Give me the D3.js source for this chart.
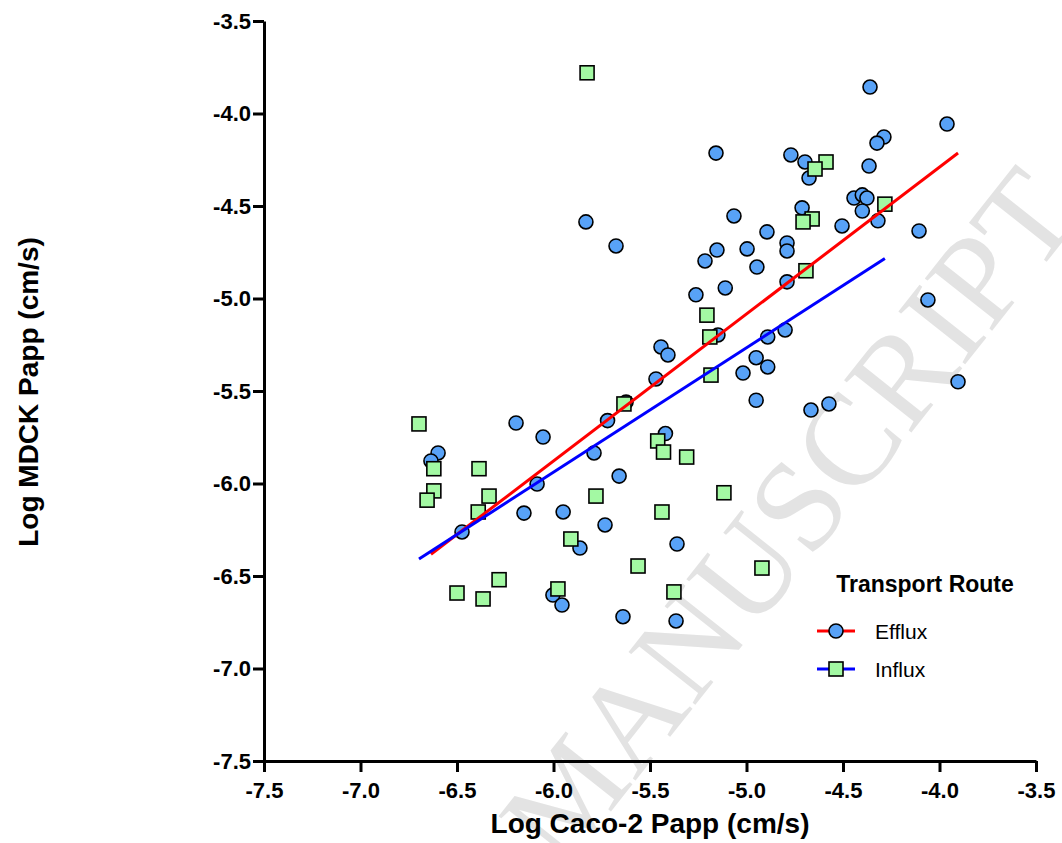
<!DOCTYPE html>
<html>
<head>
<meta charset="utf-8">
<script src="https://cdn.jsdelivr.net/npm/d3@7"></script>
<style>
  body { margin: 0; background: #fff; }
  text { font-family: "Liberation Sans", Arial, sans-serif; }
</style>
</head>
<body>
<div id="chart"></div>
<script>
// Efflux (circles)
const effluxX = [-6.194, -6.054, -6.598, -6.635, -5.79, -5.72, -5.66, -5.42, -6.085, -6.153,
  -5.95, -5.733, -6.474, -5.863, -5.36, -6.003, -5.956, -5.64, -5.365, -5.624,
  -5.443, -5.407, -5.469, -5.158, -4.77, -4.697, -4.676, -5.832, -5.065, -4.712,
  -4.505, -5.676, -4.894, -4.997, -5.153, -4.79, -4.79, -5.215, -4.946, -5.11,
  -5.262, -4.79, -5.148, -4.89, -4.8, -4.36, -3.961, -4.288, -4.324, -4.365,
  -4.443, -4.40, -4.376, -4.40, -4.319, -4.106, -4.06, -4.95, -4.89, -5.018,
  -4.95, -4.666, -4.573, -3.904];
const effluxY = [-5.673, -5.749, -5.835, -5.878, -5.835, -5.66, -5.96, -5.73, -6.003, -6.16,
  -6.154, -6.224, -6.262, -6.349, -6.327, -6.603, -6.657, -6.72, -6.743, -5.56,
  -5.262, -5.305, -5.435, -4.214, -4.224, -4.262, -4.349, -4.586, -4.554, -4.51,
  -4.608, -4.716, -4.64, -4.732, -4.738, -4.70, -4.743, -4.797, -4.83, -4.943,
  -4.98, -4.91, -5.197, -5.208, -5.17, -3.857, -4.057, -4.127, -4.16, -4.284,
  -4.457, -4.44, -4.457, -4.527, -4.58, -4.635, -5.008, -5.32, -5.37, -5.403,
  -5.55, -5.603, -5.57, -5.45];

// Influx (squares)
const influxX = [-6.697, -6.62, -6.386, -5.635, -5.46, -5.43, -5.31, -6.62, -6.655, -6.334,
  -5.78, -6.39, -5.438, -5.91, -5.562, -6.282, -6.5, -6.365, -5.977, -5.376,
  -5.826, -4.588, -4.645, -4.66, -4.707, -4.692, -5.205, -5.19, -5.184, -5.117,
  -4.92, -4.283];
const influxY = [-5.678, -5.92, -5.92, -5.57, -5.77, -5.83, -5.857, -6.04, -6.09, -6.068,
  -6.068, -6.154, -6.154, -6.30, -6.446, -6.52, -6.592, -6.624, -6.57, -6.586,
  -3.78, -4.262, -4.30, -4.57, -4.586, -4.85, -5.09, -5.208, -5.414, -6.05,
  -6.457, -4.49];

// linear fits
const seriesNames = ["Efflux", "Influx"];
const fitSlopes = [0.794, 0.673];
const fitIntercepts = [-1.114, -1.901];

const xTickValues = [-7.5, -7.0, -6.5, -6.0, -5.5, -5.0, -4.5, -4.0, -3.5];
const xTickLabels = ["-7.5", "-7.0", "-6.5", "-6.0", "-5.5", "-5.0", "-4.5", "-4.0", "-3.5"];
const yTickValues = [-7.5, -7.0, -6.5, -6.0, -5.5, -5.0, -4.5, -4.0, -3.5];
const yTickLabels = ["-7.5", "-7.0", "-6.5", "-6.0", "-5.5", "-5.0", "-4.5", "-4.0", "-3.5"];

const W = 1062, H = 843;
const margin = {top: 21, right: 26, bottom: 82, left: 264};
const width = W - margin.left - margin.right;
const height = H - margin.top - margin.bottom;

const svg = d3.select("#chart").append("svg")
  .attr("width", W)
  .attr("height", H);

// watermark
svg.append("text")
  .attr("transform", "translate(563,872) rotate(-51.6)")
  .style("font-family", "'Liberation Serif', 'DejaVu Serif', serif")
  .attr("font-size", 130)
  .attr("fill", "#e3e3e3")
  .text("MANUSCRIPT");

const g = svg.append("g")
  .attr("transform", "translate(" + margin.left + "," + margin.top + ")");

const x = d3.scaleLinear().domain([-7.5, -3.5]).range([0, width]);
const y = d3.scaleLinear().domain([-7.5, -3.5]).range([height, 0]);

const xAxis = g.append("g")
  .attr("transform", "translate(0," + height + ")")
  .call(d3.axisBottom(x)
    .tickValues(xTickValues)
    .tickFormat((d, i) => xTickLabels[i])
    .tickSize(11)
    .tickSizeOuter(0)
    .tickPadding(10));

const yAxis = g.append("g")
  .call(d3.axisLeft(y)
    .tickValues(yTickValues)
    .tickFormat((d, i) => yTickLabels[i])
    .tickSize(11)
    .tickSizeOuter(0)
    .tickPadding(2));

[xAxis, yAxis].forEach(a => {
  a.select(".domain").attr("stroke", "#000").attr("stroke-width", 3);
  a.selectAll(".tick line").attr("stroke", "#000").attr("stroke-width", 3);
  a.selectAll(".tick text")
    .attr("fill", "#000")
    .attr("font-size", 22)
    .attr("font-weight", "bold")
    .style("font-family", "'Liberation Sans', Arial, sans-serif");
});

// points
const efflux = effluxX.map((v, i) => ({x: v, y: effluxY[i]}));
const influx = influxX.map((v, i) => ({x: v, y: influxY[i]}));

g.append("g")
  .selectAll("circle")
  .data(efflux)
  .enter()
  .append("circle")
    .attr("cx", d => x(d.x))
    .attr("cy", d => y(d.y))
    .attr("r", 7)
    .attr("fill", "#58a2f7")
    .attr("stroke", "#000")
    .attr("stroke-width", 1.6);

g.append("g")
  .selectAll("rect")
  .data(influx)
  .enter()
  .append("rect")
    .attr("x", d => x(d.x) - 7)
    .attr("y", d => y(d.y) - 7)
    .attr("width", 14)
    .attr("height", 14)
    .attr("fill", "#a3f9a3")
    .attr("stroke", "#000")
    .attr("stroke-width", 1.6);

// fit lines spanning each series' x range
const fitColors = ["#ff0000", "#0000ff"];
[efflux, influx].forEach((s, k) => {
  const ext = d3.extent(s, d => d.x);
  const pts = ext.map(v => [v, fitSlopes[k] * v + fitIntercepts[k]]);
  g.append("path")
    .datum(pts)
    .attr("fill", "none")
    .attr("stroke", fitColors[k])
    .attr("stroke-width", 3)
    .attr("d", d3.line().x(d => x(d[0])).y(d => y(d[1])));
});

// axis titles
svg.append("text")
  .attr("x", margin.left + width / 2)
  .attr("y", 833)
  .attr("text-anchor", "middle")
  .attr("font-size", 28)
  .attr("font-weight", "bold")
  .text("Log Caco-2 Papp (cm/s)");

svg.append("text")
  .attr("transform", "translate(38,392) rotate(-90)")
  .attr("text-anchor", "middle")
  .attr("font-size", 28)
  .attr("font-weight", "bold")
  .text("Log MDCK Papp (cm/s)");

// legend
const legend = svg.append("g");
legend.append("text")
  .attr("x", 925)
  .attr("y", 592)
  .attr("text-anchor", "middle")
  .attr("font-size", 23)
  .attr("font-weight", "bold")
  .text("Transport Route");

seriesNames.forEach((name, k) => {
  const ly = 631 + k * 38;
  legend.append("line")
    .attr("x1", 817).attr("x2", 855)
    .attr("y1", ly).attr("y2", ly)
    .attr("stroke", fitColors[k])
    .attr("stroke-width", 3);
  if (k === 0) {
    legend.append("circle")
      .attr("cx", 836).attr("cy", ly).attr("r", 7)
      .attr("fill", "#58a2f7").attr("stroke", "#000").attr("stroke-width", 1.6);
  } else {
    legend.append("rect")
      .attr("x", 829).attr("y", ly - 7).attr("width", 14).attr("height", 14)
      .attr("fill", "#a3f9a3").attr("stroke", "#000").attr("stroke-width", 1.6);
  }
  legend.append("text")
    .attr("x", 875)
    .attr("y", ly + 8)
    .attr("font-size", 21)
    .text(name);
});
</script>
</body>
</html>
